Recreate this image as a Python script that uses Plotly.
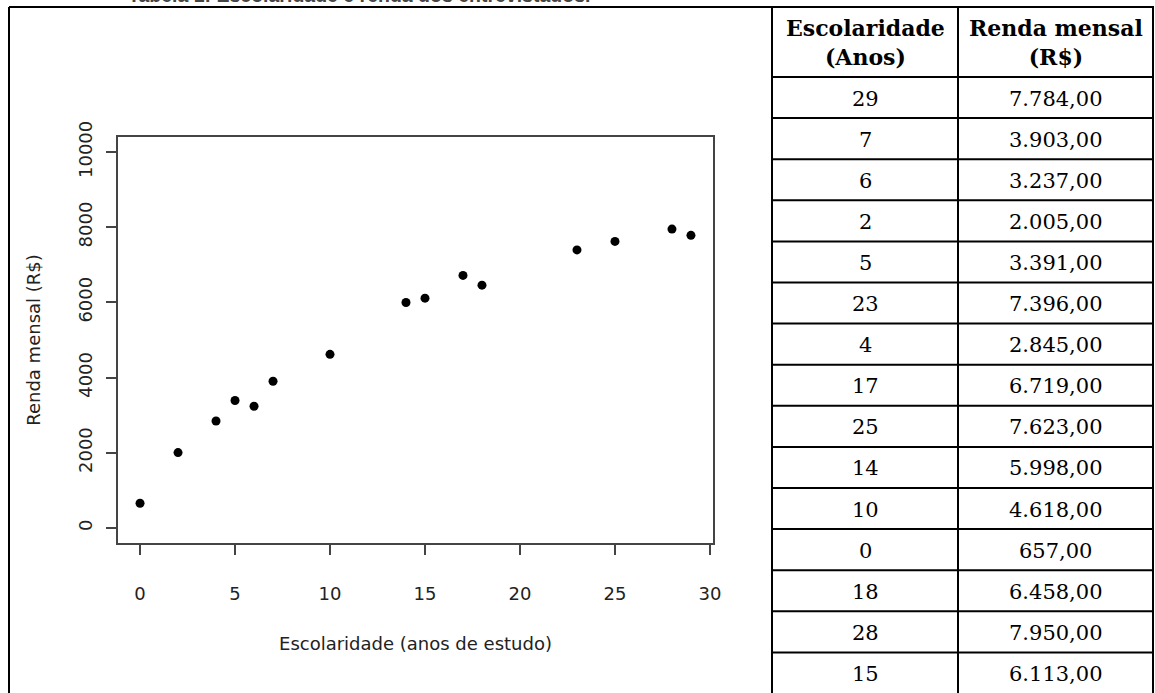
import plotly.graph_objects as go

# ---- data ----
escolaridade = [29, 7, 6, 2, 5, 23, 4, 17, 25, 14, 10, 0, 18, 28, 15]
renda = [7784, 3903, 3237, 2005, 3391, 7396, 2845, 6719, 7623, 5998, 4618, 657, 6458, 7950, 6113]
renda_txt = ["7.784,00", "3.903,00", "3.237,00", "2.005,00", "3.391,00", "7.396,00", "2.845,00",
             "6.719,00", "7.623,00", "5.998,00", "4.618,00", "657,00", "6.458,00", "7.950,00", "6.113,00"]
col_headers = ["<b>Escolaridade<br>(Anos)</b>", "<b>Renda mensal<br>(R$)</b>"]
x_ticks = [0, 5, 10, 15, 20, 25, 30]
y_ticks = [0, 2000, 4000, 6000, 8000, 10000]
caption = "Tabela 1: Escolaridade e renda dos entrevistados."

W, H = 1155, 693
L, R, T, B = 118, 713, 137, 543  # plot area in px


def px(x):
    return (x - L) / (R - L)


def py(y):
    return (B - y) / (B - T)


fig = go.Figure()
fig.add_trace(go.Scatter(
    x=escolaridade, y=renda, mode="markers",
    marker=dict(color="black", size=9, symbol="circle"),
    showlegend=False, hoverinfo="x+y"))

axis_common = dict(showline=True, linecolor="#444", linewidth=1.5, mirror=True,
                   ticks="outside", ticklen=10, tickcolor="#444", tickwidth=1.5,
                   showgrid=False, zeroline=False,
                   tickfont=dict(family="DejaVu Sans", size=18, color="#222"))

fig.update_xaxes(range=[-1.16, 30.16], tickvals=x_ticks, ticklabelstandoff=24,
                 title=dict(text="Escolaridade (anos de estudo)", standoff=34,
                            font=dict(family="DejaVu Sans", size=18, color="#222")),
                 **axis_common)
fig.update_yaxes(range=[-400, 10400], tickvals=y_ticks, tickformat="d", tickangle=-90,
                 ticklabelstandoff=7,
                 title=dict(text="Renda mensal (R$)", standoff=30,
                            font=dict(family="DejaVu Sans", size=18, color="#222")),
                 **axis_common)

shapes = []
lw = 2
# outer frame (left and top) and table lines
shapes.append(dict(type="line", xref="paper", yref="paper", x0=px(9), x1=px(9), y0=py(7), y1=py(H + 5),
                   line=dict(color="black", width=lw)))
shapes.append(dict(type="line", xref="paper", yref="paper", x0=px(9), x1=px(1154), y0=py(7), y1=py(7),
                   line=dict(color="black", width=lw)))
for xv in [772, 958, 1153]:
    shapes.append(dict(type="line", xref="paper", yref="paper", x0=px(xv), x1=px(xv), y0=py(7), y1=py(H + 5),
                       line=dict(color="black", width=lw)))

hdr_bottom = 77
row_h = 41.1
for i in range(len(escolaridade)):
    yl = hdr_bottom + i * row_h
    shapes.append(dict(type="line", xref="paper", yref="paper", x0=px(772), x1=px(1153), y0=py(yl), y1=py(yl),
                       line=dict(color="black", width=lw)))

annotations = []
c1, c2 = (772 + 958) / 2, (958 + 1153) / 2
for cx, h in zip([c1, c2], col_headers):
    annotations.append(dict(xref="paper", yref="paper", x=px(cx), y=py(43), text=h, showarrow=False,
                            xanchor="center", yanchor="middle",
                            font=dict(family="DejaVu Serif", size=22, color="black")))
for i, (e, r) in enumerate(zip(escolaridade, renda_txt)):
    cy = hdr_bottom + i * row_h + row_h / 2 + 1
    annotations.append(dict(xref="paper", yref="paper", x=px(c1), y=py(cy), text=str(e), showarrow=False,
                            xanchor="center", yanchor="middle",
                            font=dict(family="DejaVu Serif", size=21, color="black")))
    annotations.append(dict(xref="paper", yref="paper", x=px(c2), y=py(cy), text=r, showarrow=False,
                            xanchor="center", yanchor="middle",
                            font=dict(family="DejaVu Serif", size=21, color="black")))

annotations.append(dict(xref="paper", yref="paper", x=px(126), y=py(7.5), text="<b>" + caption + "</b>",
                        showarrow=False, xanchor="left", yanchor="bottom",
                        font=dict(family="Liberation Sans", size=19.5, color="#444")))

fig.update_layout(width=W, height=H, margin=dict(l=L, r=W - R, t=T, b=H - B, autoexpand=False),
                  paper_bgcolor="white", plot_bgcolor="white",
                  shapes=shapes, annotations=annotations)

fig.write_html("out.html", config={"displayModeBar": False},
               post_script="document.body.style.margin='0';")
